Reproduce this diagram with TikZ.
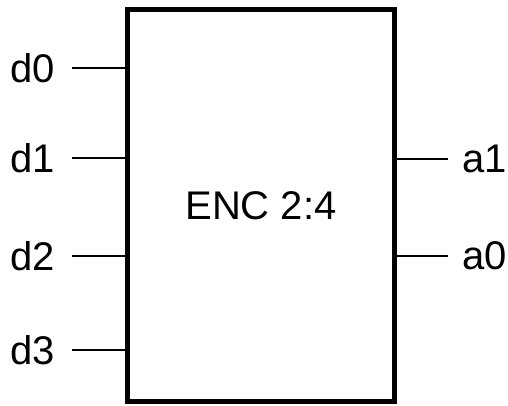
\documentclass[tikz,border=0pt]{standalone}
\usepackage{fontspec}
\setmainfont{Liberation Sans}
\usepackage{tikz}
\usetikzlibrary{positioning}

\begin{document}
\begin{tikzpicture}[
    x=1pt, y=-1pt,
    font=\fontsize{40}{48}\selectfont,
    block/.style={draw, line width=5pt, minimum width=267pt, minimum height=392pt,
                  inner sep=0pt},
    pin/.style={line width=2pt},
    lbl/.style={inner sep=0pt}
  ]
    \useasboundingbox (0,0) rectangle (508,406);
    \node[block] (enc) at (261,205.75) {ENC 2:4};
    % inputs
    \node[lbl, anchor=east] (d0) at (55,68)  {d0};
    \node[lbl, anchor=east] (d1) at (55,158) {d1};
    \node[lbl, anchor=east] (d2) at (55,256) {d2};
    \node[lbl, anchor=east] (d3) at (55,350) {d3};
    \foreach \p in {d0,d1,d2,d3} {
      \coordinate (\p p) at ([xshift=17pt]\p.east);
      \draw[pin] (\p p) -- (\p p -| enc.west);
    }
    % outputs
    \node[lbl, anchor=west] (a1) at (462.5,159) {a1};
    \node[lbl, anchor=west] (a0) at (462.5,256) {a0};
    \foreach \p in {a1,a0} {
      \coordinate (\p p) at ([xshift=-14.5pt]\p.west);
      \draw[pin] (\p p) -- (\p p -| enc.east);
    }
\end{tikzpicture}
\end{document}
